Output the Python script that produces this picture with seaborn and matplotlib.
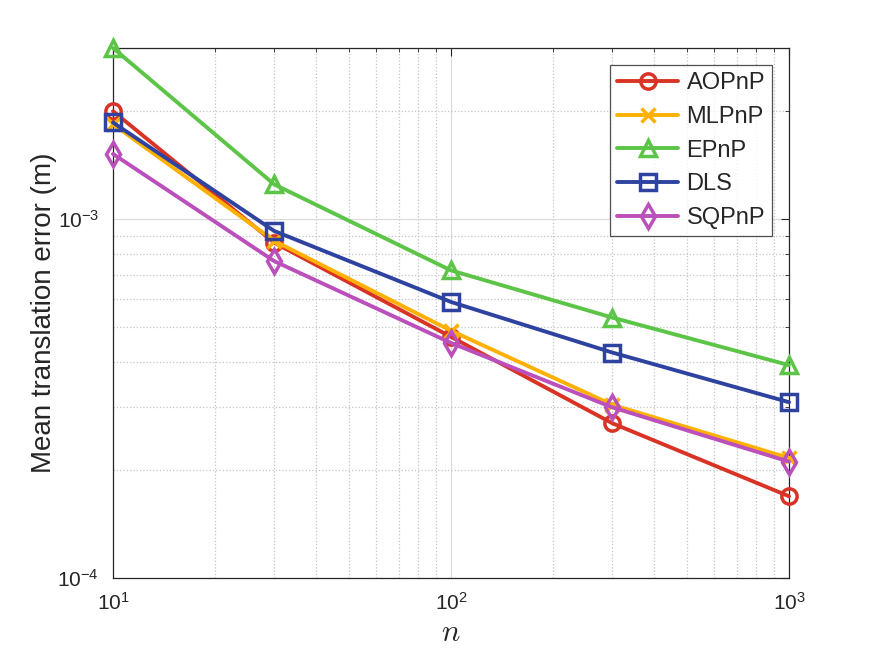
import pandas as pd
import matplotlib
matplotlib.use("Agg")
import matplotlib.pyplot as plt
import seaborn as sns

# number of points
n_values = [10, 30, 100, 300, 1000]

# mean translation error per method
aopnp = [2.00e-3, 8.6e-4, 4.70e-4, 2.70e-4, 1.69e-4]
mlpnp = [1.84e-3, 8.7e-4, 4.89e-4, 3.04e-4, 2.16e-4]
epnp = [3.00e-3, 1.25e-3, 7.2e-4, 5.32e-4, 3.92e-4]
dls = [1.86e-3, 9.27e-4, 5.88e-4, 4.25e-4, 3.09e-4]
sqpnp = [1.52e-3, 7.64e-4, 4.52e-4, 2.99e-4, 2.11e-4]

methods = ["AOPnP", "MLPnP", "EPnP", "DLS", "SQPnP"]
series = [aopnp, mlpnp, epnp, dls, sqpnp]
colors = ["#D93326", "#FFB000", "#5CC446", "#2E43A0", "#BB4FBB"]
markers = ["o", "x", "^", "s", "d"]
msizes = [11, 10, 12, 12, 12]

sns.set_style("white")
plt.rcParams['font.family'] = ['Liberation Sans', 'DejaVu Sans']
plt.rcParams['mathtext.fontset'] = 'cm'

fig = plt.figure(figsize=(8.72, 6.54), dpi=100)
ax = fig.add_axes([0.1296, 0.1162, 0.7752, 0.8104])

for name, vals, col, mk, ms in zip(methods, series, colors, markers, msizes):
    df = pd.DataFrame({"n": n_values, "err": vals})
    sns.lineplot(data=df, x="n", y="err", ax=ax, color=col, linewidth=2.8,
                 marker=mk, markersize=ms, markerfacecolor="none",
                 markeredgecolor=col, markeredgewidth=2.5, label=name,
                 clip_on=False, zorder=3)

ax.set_xscale("log")
ax.set_yscale("log")
ax.set_xlim(10, 1000)
ax.set_ylim(1e-4, 3e-3)

# grid like matlab
ax.grid(True, which="major", color="#DADADA", linestyle="-", linewidth=0.8)
ax.grid(True, which="minor", color="#C4C4C4", linestyle=":", linewidth=0.9)
ax.set_axisbelow(True)

ax.tick_params(which="both", direction="in", top=True, right=True,
               colors="#262626", labelsize=15)
ax.tick_params(axis="x", which="major", pad=10)
ax.tick_params(axis="y", which="major", pad=10)
ax.tick_params(which="major", length=6, width=0.8)
ax.tick_params(which="minor", length=3, width=0.6)
for s in ax.spines.values():
    s.set_color("#262626")
    s.set_linewidth(0.9)

ax.set_xlabel("$n$", fontsize=22, color="#262626", labelpad=3)
ax.set_ylabel("Mean translation error (m)", fontsize=20, color="#262626",
              labelpad=0)

leg = ax.legend(loc="upper right", bbox_to_anchor=(0.975, 0.968), fontsize=17,
                frameon=True, fancybox=False, edgecolor="#262626",
                handlelength=2.6, borderpad=0.3, labelspacing=0.5,
                handletextpad=0.35, borderaxespad=0.0)
leg.get_frame().set_linewidth(0.9)

plt.savefig("out.png", dpi=100)
